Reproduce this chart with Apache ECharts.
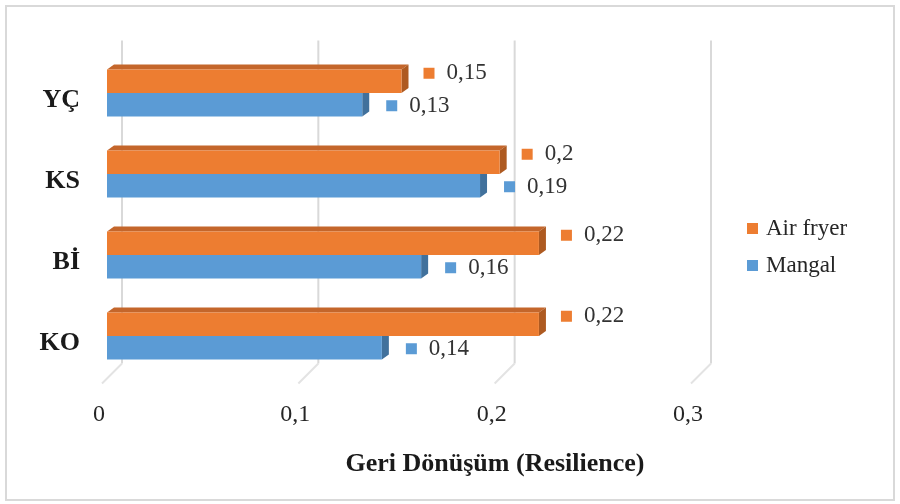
<!DOCTYPE html>
<html>
<head>
<meta charset="utf-8">
<script src="https://cdn.jsdelivr.net/npm/echarts@6/dist/echarts.min.js"></script>
<style>html,body{margin:0;padding:0;background:#fff}#c{width:900px;height:504px}</style>
</head>
<body>
<div id="c"></div>
<script>
// Data
const categories = ['KO', 'Bİ', 'KS', 'YÇ'];          // bottom to top
const mangal = [0.14, 0.16, 0.19, 0.13];
const airFryer = [0.22, 0.22, 0.20, 0.15];
const xTicks = [0, 0.1, 0.2, 0.3];
const seriesNames = ['Air fryer', 'Mangal'];
const axisTitle = 'Geri Dönüşüm (Resilience)';

const FONT = '"Liberation Serif", "Times New Roman", serif';
const ORANGE = '#ED7D31', ORANGE_SIDE = '#AE5A21', ORANGE_TOP = '#C4662B';
const BLUE = '#5B9BD5', BLUE_SIDE = '#41719C', BLUE_TOP = '#4F87BA';
const DX = 7, DY = -5;
const fmt = v => String(+v.toFixed(2)).replace('.', ',');

function barRender(isOrange) {
  return function (params, api) {
    const cat = api.value(0), val = api.value(1);
    const p0 = api.coord([0, cat]);
    const p1 = api.coord([val, cat]);
    const band = api.size([0, 1])[1];
    const h = band * 0.29;
    const c = p0[1];
    const y0 = isOrange ? c - h : c;
    const x0 = p0[0], x1 = p1[0];
    const front = isOrange ? ORANGE : BLUE;
    const side = isOrange ? ORANGE_SIDE : BLUE_SIDE;
    const top = isOrange ? ORANGE_TOP : BLUE_TOP;
    const labelY = isOrange ? (c - h / 2 - 8) : (c + h / 2 + 1);
    const sqX = x1 + (isOrange ? 22 : 24);
    return {
      type: 'group',
      children: [
        { type: 'polygon', shape: { points: [[x0, y0], [x0 + DX, y0 + DY], [x1 + DX, y0 + DY], [x1, y0]] }, style: { fill: top } },
        { type: 'polygon', shape: { points: [[x1, y0], [x1 + DX, y0 + DY], [x1 + DX, y0 + h + DY], [x1, y0 + h]] }, style: { fill: side } },
        { type: 'rect', shape: { x: x0, y: y0, width: x1 - x0, height: h }, style: { fill: front } },
        { type: 'rect', shape: { x: sqX, y: labelY - 5.5, width: 11, height: 11 }, style: { fill: front } },
        { type: 'text', x: sqX + 23, y: labelY, style: { text: fmt(val), font: '23px ' + FONT, fill: '#333333', textAlign: 'left', textVerticalAlign: 'middle' } }
      ]
    };
  };
}

function gridRender(params, api) {
  const v = api.value(0);
  const cs = params.coordSys;
  const p = api.coord([v, 0]);
  const bx = p[0] + 15;
  const top = cs.y - 12;
  const bottom = cs.y + cs.height - 13;
  return {
    type: 'group',
    children: [
      { type: 'line', shape: { x1: bx, y1: top, x2: bx, y2: bottom }, style: { stroke: '#d9d9d9', lineWidth: 2 } },
      { type: 'line', shape: { x1: bx, y1: bottom, x2: bx - 20, y2: bottom + 20 }, style: { stroke: '#e3e3e3', lineWidth: 2 } }
    ]
  };
}

function catLabelRender(params, api) {
  const cat = api.value(0);
  const p = api.coord([0, cat]);
  return {
    type: 'text', x: p[0] - 27, y: p[1] + 7,
    style: { text: categories[cat], font: 'bold 26px ' + FONT, fill: '#1a1a1a', textAlign: 'right', textVerticalAlign: 'middle' }
  };
}

const chart = echarts.init(document.getElementById('c'), null, { renderer: 'canvas' });
chart.setOption({
  animation: false,
  backgroundColor: '#fff',
  grid: { left: 107, width: 589, top: 52.5, height: 324, containLabel: false },
  xAxis: {
    type: 'value', min: 0, max: 0.3, interval: 0.1,
    axisLine: { show: false }, axisTick: { show: false }, splitLine: { show: false },
    axisLabel: { formatter: v => fmt(v), fontFamily: FONT, fontSize: 24, color: '#262626', margin: 26, padding: [0, 16, 0, 0] }
  },
  yAxis: {
    type: 'category', data: categories,
    axisLine: { show: false }, axisTick: { show: false }, splitLine: { show: false },
    axisLabel: { show: false }
  },
  legend: {
    orient: 'vertical', left: 742, top: 212, itemWidth: 11, itemHeight: 11, itemGap: 14,
    icon: 'rect', data: seriesNames,
    textStyle: { fontFamily: FONT, fontSize: 23, color: '#262626', padding: [0, 0, 0, 3] }
  },
  graphic: [
    { type: 'rect', shape: { x: 6, y: 6, width: 888, height: 494 }, style: { fill: 'none', stroke: '#d9d9d9', lineWidth: 2 }, silent: true },
    { type: 'text', x: 495, y: 464, style: { text: axisTitle, font: 'bold 26px ' + FONT, fill: '#1a1a1a', textAlign: 'center', textVerticalAlign: 'middle' } }
  ],
  series: [
    { type: 'custom', name: 'grid', renderItem: gridRender, data: xTicks.map(v => [v]), encode: { x: 0 }, z: 1, silent: true },
    { type: 'custom', name: 'labels', renderItem: catLabelRender, data: categories.map((c, i) => [i]), encode: { y: 0 }, z: 1, silent: true },
    { type: 'custom', name: seriesNames[1], itemStyle: { color: BLUE }, renderItem: barRender(false),
      data: categories.map((c, i) => [i, mangal[i]]), encode: { y: 0, x: 1 }, z: 2 },
    { type: 'custom', name: seriesNames[0], itemStyle: { color: ORANGE }, renderItem: barRender(true),
      data: categories.map((c, i) => [i, airFryer[i]]), encode: { y: 0, x: 1 }, z: 3 }
  ]
});
</script>
</body>
</html>
